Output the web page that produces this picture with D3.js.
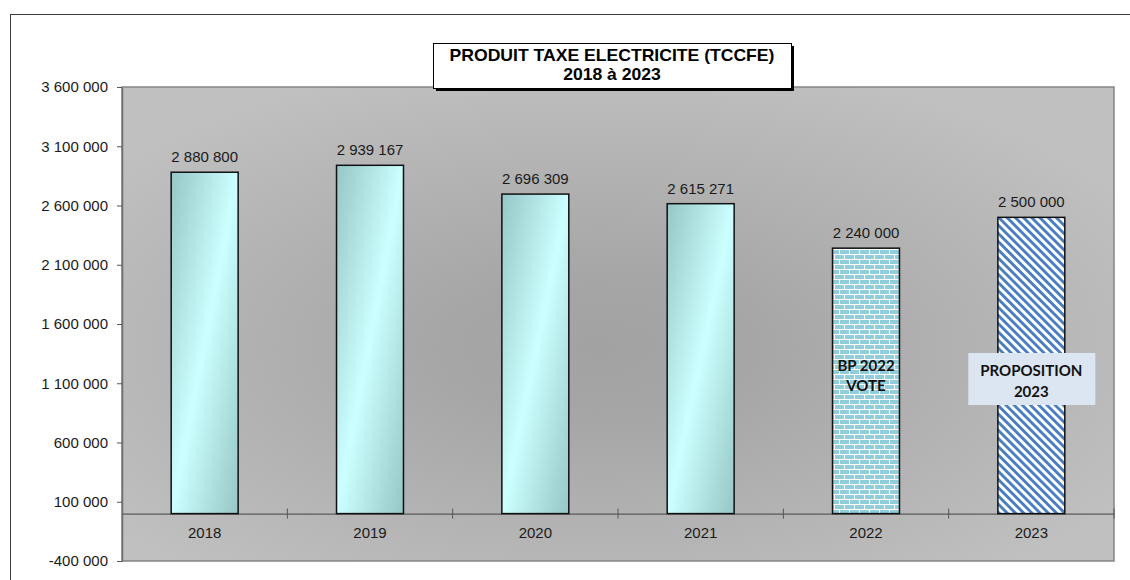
<!DOCTYPE html>
<html>
<head>
<meta charset="utf-8">
<script src="https://cdn.jsdelivr.net/npm/d3@7"></script>
<style>
  body { margin: 0; background: #fff; }
  svg { display: block; }
</style>
</head>
<body>
<script>
// Electricity tax revenue (TCCFE), 2018 to 2023
const years = ["2018", "2019", "2020", "2021", "2022", "2023"];
const amounts = [2880800, 2939167, 2696309, 2615271, 2240000, 2500000];
const fillKinds = ["grad", "grad", "grad", "grad", "brick", "hatch"];
const yTicks = [-400000, 100000, 600000, 1100000, 1600000, 2100000, 2600000, 3100000, 3600000];
const yDomain = [-400000, 3600000];
const titleLines = ["PRODUIT TAXE ELECTRICITE (TCCFE)", "2018 à 2023"];
const note2022 = ["BP 2022", "VOTE"];
const note2023 = ["PROPOSITION", "2023"];

const W = 1130, H = 580;
const plot = { left: 122, right: 1114, top: 87, bottom: 561 };

const fr = d3.formatLocale({ decimal: ",", thousands: " ", grouping: [3], currency: ["", " €"], minus: "-" });
const fmt = fr.format(",d");

const svg = d3.select("body").append("svg").attr("width", W).attr("height", H);
const defs = svg.append("defs");

// plot background: grey, darker toward the middle
const bg = defs.append("radialGradient").attr("id", "bgGrad")
  .attr("cx", "0.48").attr("cy", "0.55").attr("r", "0.62");
bg.append("stop").attr("offset", "0").attr("stop-color", "#a2a2a2");
bg.append("stop").attr("offset", "0.25").attr("stop-color", "#a6a6a6");
bg.append("stop").attr("offset", "1").attr("stop-color", "#c0c0c0");

// bar fill: diagonal teal-to-cyan gradient
const bg2 = defs.append("linearGradient").attr("id", "barGrad")
  .attr("x1", 0).attr("y1", 0).attr("x2", 1).attr("y2", 1);
bg2.append("stop").attr("offset", "0").attr("stop-color", "#96c6c6");
bg2.append("stop").attr("offset", "0.5").attr("stop-color", "#ccffff");
bg2.append("stop").attr("offset", "1").attr("stop-color", "#96c6c6");

// brick pattern
const brick = defs.append("pattern").attr("id", "brick")
  .attr("patternUnits", "userSpaceOnUse").attr("width", 10).attr("height", 10);
brick.append("rect").attr("width", 10).attr("height", 10).attr("fill", "#ffffff");
brick.append("rect").attr("x", 0).attr("y", 0).attr("width", 9).attr("height", 4).attr("fill", "#92cddc");
brick.append("rect").attr("x", -5).attr("y", 5).attr("width", 9).attr("height", 4).attr("fill", "#92cddc");
brick.append("rect").attr("x", 5).attr("y", 5).attr("width", 9).attr("height", 4).attr("fill", "#92cddc");

// diagonal hatch pattern
const hatch = defs.append("pattern").attr("id", "hatch")
  .attr("patternUnits", "userSpaceOnUse").attr("width", 5.8).attr("height", 10)
  .attr("patternTransform", "rotate(-45)");
hatch.append("rect").attr("width", 5.8).attr("height", 10).attr("fill", "#ffffff");
hatch.append("rect").attr("width", 2.9).attr("height", 10).attr("fill", "#4a7ec2");

// outer chart frame
svg.append("rect").attr("x", 10.5).attr("y", 14.5).attr("width", W + 20).attr("height", H + 20)
  .attr("fill", "none").attr("stroke", "#3c3c3c").attr("stroke-width", 1);

// scales
const x = d3.scaleBand().domain(years).range([plot.left, plot.right])
  .paddingInner(0.595).paddingOuter(0.2975);
const y = d3.scaleLinear().domain(yDomain).range([plot.bottom, plot.top]);

// plot area
svg.append("rect").attr("x", plot.left).attr("y", plot.top)
  .attr("width", plot.right - plot.left).attr("height", plot.bottom - plot.top)
  .attr("fill", "url(#bgGrad)").attr("stroke", "#858585").attr("stroke-width", 1.5);

// y axis
const yAxis = svg.append("g").attr("transform", `translate(${plot.left},0)`)
  .call(d3.axisLeft(y).tickValues(yTicks).tickFormat(fmt).tickSize(5).tickSizeOuter(0).tickPadding(9));
yAxis.select(".domain").attr("stroke", "#6e6e6e").attr("stroke-width", 1.5);
yAxis.selectAll(".tick line").attr("stroke", "#555");
yAxis.selectAll("text").attr("font-family", "'Liberation Sans', Arial, sans-serif")
  .attr("font-size", 15).attr("fill", "#1a1a1a");

// x axis along zero
const y0 = y(0);
const xAxis = svg.append("g").attr("transform", `translate(0,${y0})`)
  .call(d3.axisBottom(x).tickSize(0).tickPadding(14));
xAxis.select(".domain").attr("stroke", "#5a5a5a").attr("stroke-width", 1.2);
xAxis.selectAll("text").attr("font-family", "'Liberation Sans', Arial, sans-serif")
  .attr("font-size", 15).attr("fill", "#1a1a1a");
// category separators crossing the axis
const bounds = years.slice(1).map(d => x(d) - x.step() * x.paddingInner() / 2);
bounds.push(plot.right);
xAxis.selectAll("line.sep").data(bounds).join("line").attr("class", "sep")
  .attr("x1", d => d).attr("x2", d => d).attr("y1", -5).attr("y2", 5)
  .attr("stroke", "#555").attr("stroke-width", 1);

// bars
const fillFor = k => k === "grad" ? "url(#barGrad)" : k === "brick" ? "url(#brick)" : "url(#hatch)";
svg.append("g").selectAll("rect").data(years).join("rect")
  .attr("x", d => x(d)).attr("width", x.bandwidth())
  .attr("y", (d, i) => y(amounts[i]))
  .attr("height", (d, i) => y0 - y(amounts[i]))
  .attr("fill", (d, i) => fillFor(fillKinds[i]))
  .attr("stroke", "#111").attr("stroke-width", 1.5);

// value labels
svg.append("g").selectAll("text").data(years).join("text")
  .attr("x", d => x(d) + x.bandwidth() / 2)
  .attr("y", (d, i) => y(amounts[i]) - 10)
  .attr("text-anchor", "middle")
  .attr("font-family", "'Liberation Sans', Arial, sans-serif")
  .attr("font-size", 15).attr("fill", "#1a1a1a")
  .text((d, i) => fmt(amounts[i]));

// notes inside the last two bars
const cx22 = x("2022") + x.bandwidth() / 2;
svg.append("g").selectAll("text").data(note2022).join("text")
  .attr("x", cx22).attr("y", (d, i) => 371 + i * 20)
  .attr("text-anchor", "middle")
  .attr("font-family", "Lato, 'Liberation Sans', sans-serif")
  .attr("font-weight", "bold").attr("font-size", 15).attr("fill", "#111")
  .text(d => d);

const cx23 = x("2023") + x.bandwidth() / 2;
svg.append("rect").attr("x", cx23 - 63).attr("y", 353).attr("width", 127).attr("height", 52)
  .attr("fill", "#dce6f2");
svg.append("g").selectAll("text").data(note2023).join("text")
  .attr("x", cx23).attr("y", (d, i) => 376 + i * 21)
  .attr("text-anchor", "middle")
  .attr("font-family", "Lato, 'Liberation Sans', sans-serif")
  .attr("font-weight", "bold").attr("font-size", 15).attr("fill", "#111")
  .text(d => d);

// title box with drop shadow
const tb = { x: 433, y: 43, w: 358, h: 45 };
svg.append("rect").attr("x", tb.x + 3).attr("y", tb.y + 3).attr("width", tb.w).attr("height", tb.h)
  .attr("fill", "#000");
svg.append("rect").attr("x", tb.x + 0.5).attr("y", tb.y + 0.5).attr("width", tb.w).attr("height", tb.h)
  .attr("fill", "#fff").attr("stroke", "#000").attr("stroke-width", 1);
const tcx = tb.x + tb.w / 2;
svg.append("g").selectAll("text").data(titleLines).join("text")
  .attr("transform", (d, i) => `translate(${tcx},${[60.7, 79.7][i]}) scale(1.1,1)`)
  .attr("text-anchor", "middle")
  .attr("font-family", "'Liberation Sans', Arial, sans-serif")
  .attr("font-weight", "bold").attr("font-size", 16).attr("fill", "#000")
  .text(d => d);
</script>
</body>
</html>
